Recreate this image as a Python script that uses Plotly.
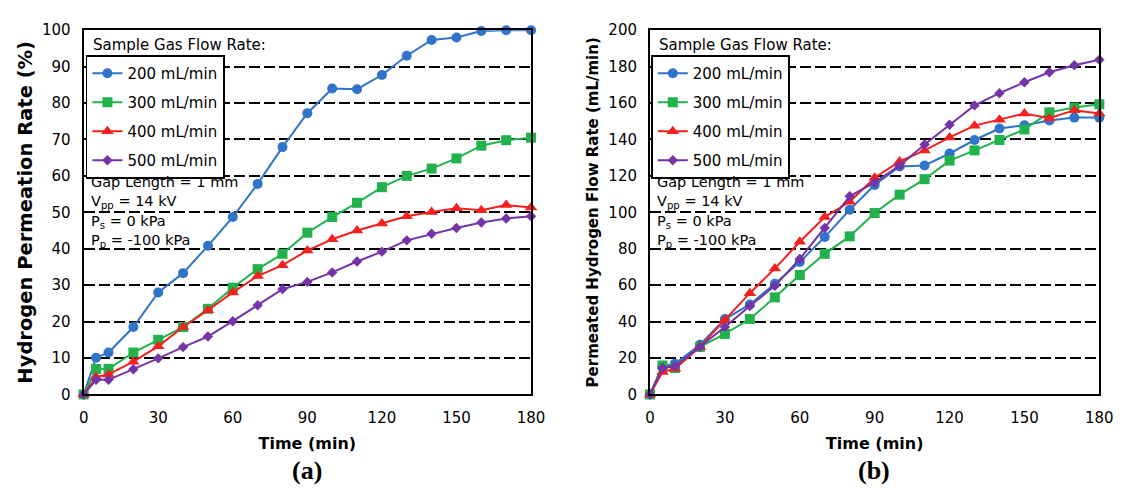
import plotly.graph_objects as go
from plotly.subplots import make_subplots

time_min = [0, 5, 10, 20, 30, 40, 50, 60, 70, 80, 90, 100, 110, 120, 130, 140, 150, 160, 170, 180]
series_names = ["200 mL/min", "300 mL/min", "400 mL/min", "500 mL/min"]

# (a) Hydrogen permeation rate (%)
rate_200 = [0, 10.1, 11.5, 18.5, 28.0, 33.3, 40.8, 48.7, 57.8, 67.9, 77.2, 84.0, 83.8, 87.7, 93.0, 97.3, 98.0, 99.8, 100, 100]
rate_300 = [0, 7.0, 7.0, 11.5, 15.0, 18.5, 23.5, 29.3, 34.4, 38.6, 44.4, 48.7, 52.6, 56.9, 60.0, 62.0, 64.8, 68.3, 69.8, 70.5]
rate_400 = [0, 4.8, 5.5, 9.0, 13.2, 18.5, 23.1, 28.0, 32.5, 35.5, 39.5, 42.6, 45.0, 46.9, 48.9, 50.1, 51.1, 50.6, 52.0, 51.3]
rate_500 = [0, 4.0, 4.0, 6.9, 9.9, 13.0, 15.9, 20.1, 24.5, 28.9, 30.9, 33.5, 36.5, 39.2, 42.3, 44.1, 45.7, 47.2, 48.3, 48.9]

# (b) Permeated hydrogen flow rate (mL/min)
flow_200 = [0, 15.5, 16.8, 27.3, 41.4, 49.4, 60.8, 72.7, 86.4, 101.4, 115.0, 125.2, 125.7, 132.3, 139.7, 146.0, 147.8, 150.4, 152.0, 152.0]
flow_300 = [0, 15.9, 14.5, 26.1, 33.2, 41.4, 53.3, 65.6, 77.2, 86.8, 99.6, 109.7, 118.2, 128.4, 134.0, 139.7, 145.5, 154.9, 157.5, 159.3]
flow_400 = [0, 12.3, 14.1, 26.1, 40.9, 55.6, 69.1, 83.8, 97.4, 105.8, 119.0, 127.9, 134.0, 141.1, 147.6, 150.8, 154.3, 151.7, 156.1, 154.3]
flow_500 = [0, 14.5, 15.5, 26.1, 37.0, 48.5, 59.6, 74.4, 91.4, 108.8, 116.4, 125.6, 137.2, 148.1, 158.7, 165.4, 171.4, 176.9, 180.8, 183.8]

x_ticks = [0, 30, 60, 90, 120, 150, 180]

colors = ["#2F74C8", "#22B24C", "#F5201E", "#7433A6"]
symbols = ["circle", "square", "triangle-up", "diamond"]
msizes = [10, 10, 11, 8]

W, H = 1133, 494
FONT = "DejaVu Sans"

fig = make_subplots(rows=1, cols=2)

for col, data, leg in [(1, [rate_200, rate_300, rate_400, rate_500], "legend"),
                       (2, [flow_200, flow_300, flow_400, flow_500], "legend2")]:
    for i, y in enumerate(data):
        fig.add_trace(go.Scatter(
            x=time_min, y=y, name=series_names[i], mode="lines+markers",
            line=dict(color=colors[i], width=2),
            marker=dict(color=colors[i], symbol=symbols[i], size=msizes[i]),
            legend=leg, legendgroup=f"{leg}_{i}", cliponaxis=False,
        ), row=1, col=col)

def px_x(p):
    return p / W

def px_y(p):
    return 1 - p / H

ydom = [px_y(400), px_y(22)]
fig.update_layout(
    width=W, height=H, margin=dict(l=0, r=0, t=0, b=0),
    paper_bgcolor="white", plot_bgcolor="white",
    font=dict(family=FONT, size=15, color="black"),
    xaxis=dict(domain=[px_x(80), px_x(535)]),
    xaxis2=dict(domain=[px_x(656), px_x(1113)]),
    yaxis=dict(domain=ydom),
    yaxis2=dict(domain=ydom),
)

axis_common = dict(showline=True, linecolor="black", linewidth=2, mirror=True,
                   ticks="", zeroline=False, tickfont=dict(family=FONT, size=15, color="black"))
for c in (1, 2):
    fig.update_xaxes(range=[0, 180], tickvals=x_ticks, showgrid=False, ticklabelstandoff=9,
                     title=dict(text="<b>Time (min)</b>", font=dict(family=FONT, size=16), standoff=11),
                     row=1, col=c, **axis_common)

fig.update_yaxes(range=[0, 100], dtick=10, showgrid=True, gridcolor="black", gridwidth=1.8,
                 griddash="11px,4px", ticklabelstandoff=8,
                 title=dict(text="<b>Hydrogen Permeation Rate (%)</b>", font=dict(family=FONT, size=19.5), standoff=4),
                 row=1, col=1, **axis_common)
fig.update_yaxes(range=[0, 200], dtick=20, showgrid=True, gridcolor="black", gridwidth=1.8,
                 griddash="11px,4px", ticklabelstandoff=8,
                 title=dict(text="<b>Permeated Hydrogen Flow Rate (mL/min)</b>", font=dict(family=FONT, size=15), standoff=6),
                 row=1, col=2, **axis_common)

legend_common = dict(bgcolor="white", bordercolor="black", borderwidth=1.8,
                     font=dict(family=FONT, size=15, color="black"),
                     tracegroupgap=6.5, xanchor="left", yanchor="top", itemwidth=30)
fig.update_layout(
    legend=dict(x=px_x(82), y=px_y(48), **legend_common),
    legend2=dict(x=px_x(657), y=px_y(48), **legend_common),
)

annots = []
for x0 in (85, 661):
    annots.append(dict(xref="paper", yref="paper", x=px_x(x0 + 2), y=px_y(37), text="Sample Gas Flow Rate:",
                       showarrow=False, xanchor="left", yanchor="middle", font=dict(family=FONT, size=15)))
    info = ["Gap Length = 1 mm", "V<sub>pp</sub> = 14 kV", "P<sub>s</sub> = 0 kPa", "P<sub>p</sub> = -100 kPa"]
    for k, t in enumerate(info):
        annots.append(dict(xref="paper", yref="paper", x=px_x(x0), y=px_y(180 + 20.3 * k), text=t,
                           showarrow=False, xanchor="left", yanchor="middle", font=dict(family=FONT, size=14.5)))
annots.append(dict(xref="paper", yref="paper", x=px_x(307), y=px_y(479), text="<b>(a)</b>", showarrow=False,
                   xanchor="center", yanchor="middle", font=dict(family="Liberation Serif", size=26)))
annots.append(dict(xref="paper", yref="paper", x=px_x(884), y=px_y(479), text="<b>(b)</b>", showarrow=False,
                   xanchor="center", yanchor="middle", font=dict(family="Liberation Serif", size=26)))
fig.update_layout(annotations=annots)

fig.write_html("out.html")
